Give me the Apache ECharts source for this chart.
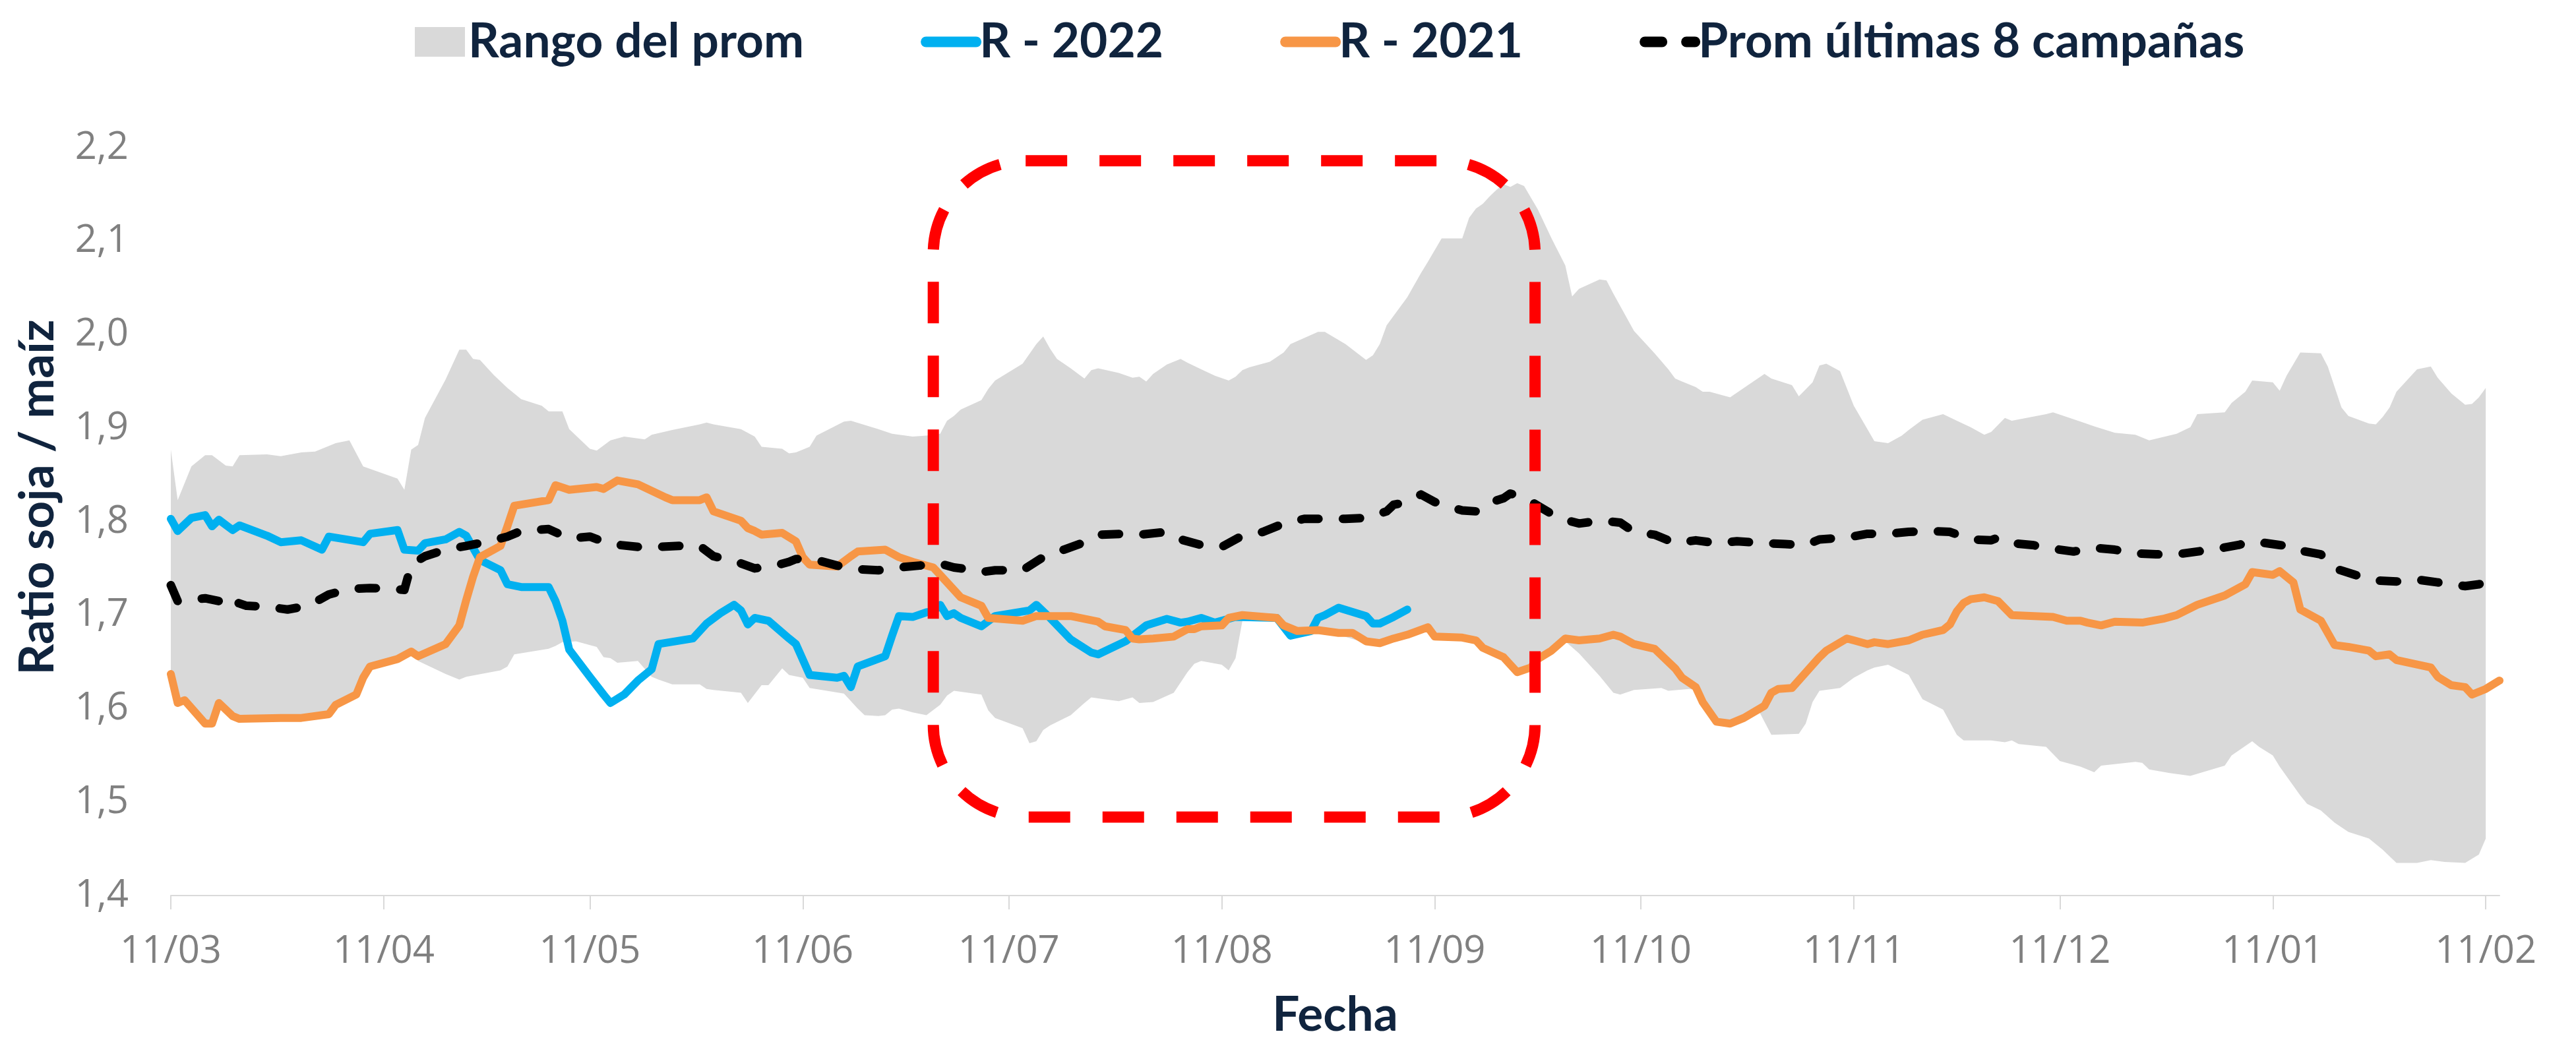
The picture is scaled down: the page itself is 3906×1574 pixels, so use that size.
<!DOCTYPE html>
<html lang="es">
<head>
    <meta charset="UTF-8">
    <title>Ratio soja / maíz</title>
    <script src="https://cdn.jsdelivr.net/npm/echarts@6/dist/echarts.min.js"></script>
    <style>
        html, body { margin: 0; padding: 0; background: #ffffff; }
    </style>
</head>
<body>
    <div id="main" style="width: 3906px;height:1574px;"></div>
    <script type="text/javascript">

        // eje x: días contados desde el 11/03
        var diasEtiqueta = [0, 31, 61, 92, 122, 153, 184, 214, 245, 275, 306, 337];
        var etiquetasFecha = ['11/03', '11/04', '11/05', '11/06', '11/07', '11/08', '11/09', '11/10', '11/11', '11/12', '11/01', '11/02'];

        // [día, ratio]
        var r2022 = [[0,1.803],[1,1.790],[3,1.804],[5,1.807],[6,1.795],[7,1.802],[9,1.791],[10,1.796],[14,1.785],[16,1.778],
            [19,1.780],[22,1.770],[23,1.784],[28,1.778],[29,1.787],[33,1.791],[34,1.770],[36,1.769],[37,1.777],[40,1.781],
            [42,1.789],[43,1.785],[45,1.759],[48,1.748],[49,1.733],[51,1.730],[55,1.730],[56,1.715],[57,1.694],[58,1.663],
            [61,1.634],[63,1.615],[64,1.606],[66,1.615],[68,1.630],[70,1.642],[71,1.669],[76,1.675],[78,1.691],[80,1.702],
            [82,1.711],[83,1.705],[84,1.690],[85,1.697],[87,1.694],[90,1.675],[91,1.669],[93,1.636],[97,1.633],[98,1.635],
            [99,1.623],[100,1.645],[104,1.656],[105,1.678],[106,1.699],[108,1.698],[110,1.703],[111,1.704],[112,1.711],[113,1.699],
            [114,1.702],[115,1.697],[118,1.688],[120,1.699],[125,1.705],[126,1.711],[128,1.697],[131,1.674],[134,1.660],[135,1.658],
            [139,1.672],[142,1.689],[145,1.696],[147,1.692],[148,1.693],[150,1.697],[152,1.692],[155,1.698],[161,1.697],[163,1.678],
            [166,1.683],[167,1.697],[168,1.700],[170,1.708],[174,1.699],[175,1.691],[176,1.691],[178,1.698],[180,1.706]];

        var r2021 = [[0,1.637],[1,1.606],[2,1.609],[5,1.584],[6,1.584],[7,1.606],[9,1.592],[10,1.589],[16,1.590],[19,1.590],
            [23,1.594],[24,1.604],[27,1.615],[28,1.633],[29,1.645],[33,1.653],[35,1.661],[36,1.656],[40,1.669],[42,1.689],
            [43,1.716],[44,1.741],[45,1.762],[48,1.774],[49,1.795],[50,1.817],[55,1.823],[56,1.839],[58,1.834],[62,1.837],
            [63,1.835],[65,1.844],[68,1.840],[72,1.826],[73,1.823],[77,1.823],[78,1.826],[79,1.811],[83,1.801],[84,1.793],
            [85,1.790],[86,1.786],[89,1.788],[91,1.779],[92,1.762],[93,1.754],[97,1.752],[99,1.763],[100,1.768],[104,1.770],
            [106,1.762],[108,1.757],[111,1.751],[113,1.735],[115,1.719],[118,1.710],[119,1.697],[124,1.694],[126,1.699],[131,1.699],
            [133,1.696],[135,1.693],[136,1.688],[139,1.684],[140,1.675],[141,1.674],[143,1.675],[146,1.677],[148,1.685],[149,1.685],
            [150,1.688],[153,1.689],[154,1.697],[156,1.700],[161,1.697],[162,1.689],[164,1.683],[167,1.684],[170,1.681],[172,1.681],
            [174,1.672],[176,1.670],[178,1.675],[180,1.679],[183,1.687],[184,1.677],[188,1.676],[190,1.673],[191,1.665],[194,1.655],
            [196,1.639],[198,1.644],[199,1.653],[201,1.662],[203,1.675],[205,1.673],[208,1.675],[210,1.679],[211,1.677],[213,1.669],
            [216,1.664],[219,1.643],[220,1.633],[222,1.623],[223,1.607],[225,1.586],[227,1.584],[229,1.590],[232,1.603],[233,1.617],
            [234,1.621],[236,1.622],[240,1.655],[241,1.662],[244,1.675],[245,1.673],[247,1.669],[248,1.671],[250,1.669],[253,1.673],
            [255,1.679],[258,1.684],[259,1.690],[260,1.704],[261,1.713],[262,1.717],[264,1.719],[266,1.715],[268,1.700],[274,1.698],
            [276,1.694],[278,1.694],[279,1.692],[281,1.689],[283,1.693],[287,1.692],[290,1.696],[292,1.700],[295,1.711],[299,1.721],
            [302,1.733],[303,1.746],[306,1.743],[307,1.747],[309,1.735],[310,1.706],[313,1.694],[315,1.668],[317,1.666],[320,1.662],
            [321,1.656],[323,1.658],[324,1.652],[329,1.644],[330,1.634],[332,1.625],[334,1.623],[335,1.615],[337,1.621],[339,1.630]];

        var promedio = [[0,1.732],[1,1.715],[2,1.716],[5,1.718],[7,1.715],[8,1.721],[9,1.715],[11,1.710],[14,1.709],[17,1.706],
            [20,1.710],[23,1.722],[26,1.728],[29,1.729],[32,1.728],[34,1.727],[35,1.754],[37,1.763],[40,1.770],[43,1.774],
            [47,1.780],[49,1.784],[51,1.790],[55,1.792],[58,1.782],[61,1.784],[64,1.776],[68,1.773],[71,1.773],[74,1.774],
            [77,1.774],[79,1.763],[82,1.758],[85,1.750],[88,1.753],[90,1.757],[91,1.760],[94,1.759],[97,1.753],[100,1.749],
            [103,1.748],[106,1.751],[109,1.753],[112,1.755],[114,1.751],[116,1.749],[118,1.746],[120,1.748],[124,1.748],[127,1.762],
            [130,1.770],[133,1.778],[135,1.786],[139,1.787],[141,1.786],[145,1.789],[147,1.781],[150,1.775],[153,1.773],[156,1.785],
            [159,1.789],[162,1.798],[165,1.803],[171,1.803],[174,1.804],[177,1.811],[178,1.818],[180,1.821],[182,1.829],[184,1.821],
            [185,1.818],[188,1.812],[190,1.811],[191,1.818],[194,1.825],[195,1.830],[197,1.826],[199,1.817],[202,1.804],[205,1.798],
            [208,1.801],[211,1.799],[213,1.789],[216,1.786],[219,1.777],[222,1.780],[225,1.777],[228,1.779],[232,1.777],[235,1.776],
            [238,1.775],[240,1.781],[244,1.783],[247,1.787],[250,1.787],[253,1.789],[256,1.790],[259,1.789],[262,1.781],[265,1.780],
            [266,1.783],[268,1.777],[271,1.775],[274,1.771],[277,1.768],[280,1.772],[283,1.770],[286,1.766],[289,1.765],[292,1.765],
            [295,1.768],[298,1.771],[301,1.775],[303,1.779],[304,1.778],[307,1.775],[309,1.773],[310,1.769],[313,1.765],[315,1.750],
            [318,1.743],[321,1.737],[324,1.736],[327,1.738],[330,1.735],[334,1.731],[336,1.733],[338,1.738]];

        // rango del promedio: máximo y mínimo
        var rangoMax = [[0,1.877],[1,1.823],[3,1.859],[5,1.871],[6,1.871],[8,1.860],[9,1.859],[10,1.871],[14,1.872],[16,1.870],
            [19,1.874],[21,1.875],[24,1.884],[26,1.887],[28,1.859],[33,1.846],[34,1.834],[35,1.877],[36,1.882],[37,1.911],
            [40,1.952],[42,1.984],[43,1.984],[44,1.974],[45,1.973],[47,1.957],[49,1.943],[51,1.931],[54,1.924],[55,1.918],
            [57,1.918],[58,1.899],[61,1.878],[62,1.876],[64,1.887],[66,1.891],[69,1.888],[70,1.893],[73,1.898],[77,1.904],
            [78,1.906],[79,1.904],[83,1.899],[85,1.891],[86,1.880],[89,1.878],[90,1.873],[91,1.874],[93,1.880],[94,1.892],
            [98,1.907],[99,1.908],[103,1.899],[105,1.894],[108,1.891],[110,1.892],[112,1.894],[113,1.908],[114,1.913],[115,1.920],
            [118,1.930],[119,1.942],[120,1.951],[124,1.969],[126,1.990],[127,1.998],[128,1.985],[129,1.974],[131,1.964],[133,1.953],
            [134,1.962],[135,1.964],[138,1.959],[140,1.954],[141,1.955],[142,1.950],[143,1.958],[145,1.968],[147,1.974],[148,1.970],
            [150,1.963],[152,1.956],[154,1.951],[155,1.955],[156,1.962],[157,1.965],[160,1.971],[162,1.981],[163,1.990],[167,2.003],
            [168,2.003],[171,1.990],[174,1.973],[175,1.978],[176,1.990],[177,2.010],[180,2.040],[182,2.066],[183,2.078],[185,2.103],
            [188,2.103],[189,2.125],[190,2.135],[191,2.140],[192,2.148],[193,2.155],[194,2.161],[195,2.158],[196,2.162],[197,2.159],
            [199,2.134],[201,2.103],[203,2.074],[204,2.041],[205,2.049],[208,2.059],[209,2.058],[210,2.044],[213,2.004],[216,1.980],
            [218,1.963],[219,1.953],[220,1.950],[222,1.944],[223,1.939],[224,1.939],[227,1.933],[229,1.943],[232,1.958],[233,1.953],
            [236,1.946],[237,1.934],[239,1.949],[240,1.967],[241,1.969],[243,1.961],[245,1.924],[248,1.886],[250,1.884],[252,1.892],
            [253,1.898],[255,1.909],[258,1.915],[260,1.908],[262,1.901],[264,1.893],[265,1.896],[267,1.911],[268,1.908],[273,1.915],
            [274,1.917],[278,1.907],[280,1.902],[283,1.895],[286,1.893],[288,1.887],[292,1.894],[294,1.901],[295,1.915],[299,1.917],
            [300,1.927],[302,1.939],[303,1.951],[306,1.949],[307,1.940],[308,1.956],[310,1.981],[313,1.980],[314,1.966],[316,1.922],
            [317,1.913],[320,1.905],[321,1.904],[322,1.912],[323,1.922],[324,1.939],[327,1.963],[329,1.966],[330,1.954],[332,1.937],
            [334,1.925],[335,1.926],[336,1.933],[337,1.943]];

        var rangoMin = [[0,1.637],[1,1.606],[2,1.609],[5,1.584],[6,1.584],[7,1.606],[9,1.592],[10,1.589],[16,1.590],[19,1.590],
            [23,1.594],[24,1.604],[27,1.615],[28,1.633],[29,1.645],[33,1.653],[35,1.661],[36,1.651],[40,1.637],[42,1.631],
            [43,1.634],[48,1.641],[49,1.645],[50,1.658],[55,1.664],[56,1.667],[57,1.671],[59,1.672],[62,1.666],[63,1.655],
            [64,1.654],[65,1.649],[68,1.651],[70,1.634],[71,1.631],[73,1.626],[77,1.626],[78,1.621],[79,1.620],[83,1.617],
            [84,1.606],[86,1.625],[87,1.625],[89,1.643],[90,1.636],[92,1.633],[93,1.622],[98,1.616],[100,1.600],[101,1.593],
            [103,1.592],[104,1.593],[105,1.599],[106,1.600],[108,1.596],[110,1.593],[112,1.604],[113,1.614],[114,1.619],[118,1.615],
            [119,1.598],[120,1.590],[124,1.579],[125,1.563],[126,1.565],[127,1.577],[128,1.582],[131,1.593],[133,1.606],[134,1.612],
            [135,1.611],[138,1.608],[140,1.612],[141,1.606],[143,1.607],[146,1.617],[148,1.639],[149,1.648],[150,1.651],[153,1.647],
            [154,1.641],[155,1.654],[156,1.694],[161,1.695],[162,1.687],[164,1.681],[170,1.679],[174,1.670],[176,1.668],[178,1.673],
            [180,1.677],[183,1.685],[184,1.675],[188,1.674],[190,1.671],[191,1.663],[194,1.653],[196,1.637],[198,1.642],[199,1.651],
            [201,1.660],[203,1.672],[205,1.659],[208,1.635],[210,1.617],[211,1.615],[213,1.620],[217,1.622],[218,1.619],[221,1.621],
            [222,1.620],[223,1.605],[225,1.584],[227,1.582],[229,1.588],[231,1.600],[233,1.572],[237,1.573],[238,1.584],[239,1.607],
            [240,1.619],[243,1.622],[245,1.633],[247,1.641],[248,1.644],[250,1.647],[253,1.636],[255,1.610],[258,1.599],[260,1.572],
            [261,1.566],[265,1.566],[267,1.564],[268,1.566],[269,1.562],[273,1.559],[275,1.544],[278,1.538],[280,1.532],[281,1.539],
            [286,1.543],[287,1.542],[288,1.535],[291,1.531],[294,1.528],[299,1.539],[300,1.550],[303,1.565],[304,1.559],[306,1.550],
            [307,1.538],[310,1.507],[311,1.498],[313,1.491],[315,1.478],[317,1.468],[320,1.461],[322,1.449],[324,1.435],[327,1.435],
            [329,1.438],[331,1.436],[334,1.435],[336,1.444],[337,1.461]];

        // recuadro rojo de la anotación (esquinas en coordenadas de datos)
        var recuadro = [[111, 2.186], [198.6, 1.484]];

        var azulOscuro = '#10243E';
        var grisTexto = '#808080';
        var grisEje = '#D9D9D9';

        // sin marcador en el ícono de la leyenda, solo la línea
        var sinMarcador = { opacity: 0, borderWidth: 0 };

        // 基于准备好的dom，初始化echarts实例
        var myChart = echarts.init(document.getElementById('main'));

        option = {
            animation: false,
            backgroundColor: '#ffffff',
            legend: {
                left: 624,
                top: 22,
                itemWidth: 76,
                itemHeight: 45,
                itemGap: 177,
                textStyle: {
                    fontFamily: 'Lato',
                    fontWeight: 'bold',
                    fontSize: 73,
                    color: azulOscuro
                },
                lineStyle: { width: 16 },
                data: [
                    { name: 'Rango del prom', icon: 'rect' },
                    { name: 'R - 2022', itemStyle: sinMarcador },
                    { name: 'R - 2021', itemStyle: sinMarcador },
                    { name: 'Prom últimas 8 campañas', itemStyle: sinMarcador }
                ]
            },
            grid: {
                left: 259,
                right: 116,
                top: 224,
                bottom: 216,
                outerBoundsMode: 'none'
            },
            xAxis: {
                type: 'value',
                min: 0,
                max: 339,
                name: 'Fecha',
                nameLocation: 'middle',
                nameGap: 145,
                nameTextStyle: {
                    fontFamily: 'Lato',
                    fontWeight: 'bold',
                    fontSize: 73,
                    color: azulOscuro
                },
                splitLine: { show: false },
                axisLine: { lineStyle: { color: grisEje, width: 2 } },
                axisTick: {
                    customValues: diasEtiqueta,
                    length: 21,
                    lineStyle: { color: grisEje, width: 2 }
                },
                axisLabel: {
                    customValues: diasEtiqueta,
                    margin: 56,
                    fontFamily: 'Open Sans',
                    fontSize: 58,
                    color: grisTexto,
                    formatter: function (v) {
                        return etiquetasFecha[diasEtiqueta.indexOf(v)];
                    }
                },
                z: 10
            },
            yAxis: {
                type: 'value',
                min: 1.4,
                max: 2.2,
                interval: 0.1,
                name: 'Ratio soja / maíz',
                nameLocation: 'middle',
                nameGap: 165,
                nameTextStyle: {
                    fontFamily: 'Lato',
                    fontWeight: 'bold',
                    fontSize: 73,
                    color: azulOscuro,
                    padding: [0, 0, 0, 74]
                },
                axisLine: { show: false },
                axisTick: { show: false },
                splitLine: { show: false },
                axisLabel: {
                    margin: 64,
                    fontFamily: 'Open Sans',
                    fontSize: 58,
                    color: grisTexto,
                    formatter: function (v) {
                        return v.toFixed(1).replace('.', ',');
                    }
                }
            },
            series: [
                {
                    name: 'Rango del prom',
                    type: 'custom',
                    silent: true,
                    z: 1,
                    data: [[0, 1.8]],
                    itemStyle: { color: grisEje },
                    renderItem: function (params, api) {
                        var puntos = [];
                        rangoMax.forEach(function (p) { puntos.push(api.coord(p)); });
                        rangoMin.slice().reverse().forEach(function (p) { puntos.push(api.coord(p)); });
                        return {
                            type: 'polygon',
                            shape: { points: puntos },
                            style: { fill: grisEje }
                        };
                    }
                },
                {
                    name: 'R - 2022',
                    type: 'line',
                    data: r2022,
                    symbol: 'none',
                    showSymbol: false,
                    itemStyle: { color: '#00B0F0' },
                    lineStyle: { color: '#00B0F0', width: 12, cap: 'round', join: 'round' },
                    z: 3
                },
                {
                    name: 'R - 2021',
                    type: 'line',
                    data: r2021,
                    symbol: 'none',
                    showSymbol: false,
                    itemStyle: { color: '#F79646' },
                    lineStyle: { color: '#F79646', width: 12, cap: 'round', join: 'round' },
                    z: 4
                },
                {
                    name: 'Prom últimas 8 campañas',
                    type: 'line',
                    data: promedio,
                    symbol: 'none',
                    showSymbol: false,
                    itemStyle: { color: '#000000' },
                    lineStyle: { color: '#000000', width: 13, type: [26, 37], cap: 'round', join: 'round' },
                    z: 5
                }
            ]
        };

        // 使用刚指定的配置项和数据显示图表。
        myChart.setOption(option);

        // recuadro rojo punteado, ubicado con la escala del gráfico
        var p1 = myChart.convertToPixel({ gridIndex: 0 }, recuadro[0]);
        var p2 = myChart.convertToPixel({ gridIndex: 0 }, recuadro[1]);
        myChart.setOption({
            graphic: [{
                type: 'rect',
                z: 100,
                silent: true,
                shape: { x: p1[0], y: p1[1], width: p2[0] - p1[0], height: p2[1] - p1[1], r: 140 },
                style: { fill: 'none', stroke: '#FF0000', lineWidth: 17, lineDash: [63, 49] }
            }]
        });

    </script>
</body>
</html>
